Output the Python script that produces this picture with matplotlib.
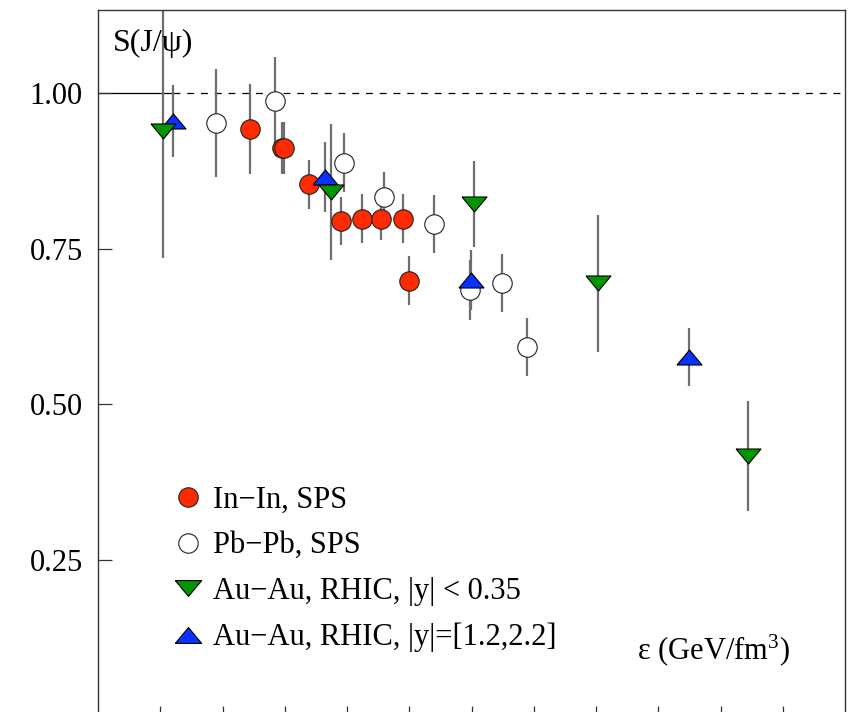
import matplotlib
matplotlib.use("Agg")
import matplotlib.pyplot as plt
from matplotlib.lines import Line2D

plt.rcParams['font.family'] = ['Liberation Serif', 'DejaVu Serif']
plt.rcParams['mathtext.fontset'] = 'custom'
plt.rcParams['mathtext.rm'] = 'Liberation Serif'
plt.rcParams['mathtext.it'] = 'Liberation Serif:italic'

# ---- data ----
inin_x = [1.221, 1.475, 1.497, 1.697, 1.949, 2.123, 2.273, 2.447, 2.498]
inin_y = [0.943, 0.912, 0.912, 0.854, 0.795, 0.799, 0.799, 0.799, 0.699]
inin_e = [0.072, 0.042, 0.042, 0.039, 0.039, 0.039, 0.035, 0.039, 0.039]

pbpb_x = [0.948, 1.424, 1.973, 2.297, 2.699, 2.988, 3.247, 3.443]
pbpb_y = [0.953, 0.988, 0.889, 0.834, 0.790, 0.684, 0.695, 0.592]
pbpb_e = [0.087, 0.071, 0.047, 0.040, 0.047, 0.048, 0.047, 0.047]

aumid_x = [0.524, 1.874, 3.020, 4.018, 5.221]
aumid_y = [0.940, 0.842, 0.822, 0.695, 0.417]
aumid_e = [0.205, 0.109, 0.069, 0.110, 0.088]

aufwd_x = [0.600, 1.823, 2.996, 4.745]
aufwd_y = [0.956, 0.866, 0.700, 0.576]
aufwd_e = [0.058, 0.056, 0.048, 0.047]

labels = ["In\u2212In, SPS", "Pb\u2212Pb, SPS",
          "Au\u2212Au, RHIC, |y| < 0.35", "Au\u2212Au, RHIC, |y|=[1.2,2.2]"]
yticks = [0.25, 0.50, 0.75, 1.00]
xticks = [0.5, 1.0, 1.5, 2.0, 2.5, 3.0, 3.5, 4.0, 4.5, 5.0, 5.5]

# ---- style ----
RED = '#ff2a00'
GREEN = '#009600'
BLUE = '#0a32ff'
ECOL = '#6e6e6e'
tri_up = [(-1, -0.6), (1, -0.6), (0, 0.6), (-1, -0.6)]
tri_dn = [(-1, 0.6), (1, 0.6), (0, -0.6), (-1, 0.6)]

fig = plt.figure(figsize=(8.48, 7.12), dpi=100)
ax = fig.add_axes([98/848, -3.5/712, 747/848, 705.5/712])
ax.set_xlim(0, 6.0)
ax.set_ylim(0, 1.1342)

# reference line at 1
ax.plot([0, 0.6], [1, 1], color='black', lw=0.9, zorder=1)
ax.plot([0.6, 6.0], [1, 1], color='black', lw=0.9, ls=(0, (5.5, 5.5)), zorder=1)

ekw = dict(fmt='none', ecolor=ECOL, elinewidth=1.6, capsize=0, zorder=2)
for xs, ys, es in [(inin_x, inin_y, inin_e), (pbpb_x, pbpb_y, pbpb_e),
                   (aumid_x, aumid_y, aumid_e), (aufwd_x, aufwd_y, aufwd_e)]:
    ax.errorbar(xs, ys, yerr=es, **ekw)

ax.plot(inin_x, inin_y, ls='none', marker='o', ms=14, mfc=RED, mec='#222222', mew=0.8, zorder=3)
ax.plot(pbpb_x, pbpb_y, ls='none', marker='o', ms=14, mfc='white', mec='#222222', mew=0.8, zorder=4)
ax.plot(aufwd_x, aufwd_y, ls='none', marker=tri_up, ms=18, mfc=BLUE, mec='black', mew=0.8, zorder=5)
ax.plot(aumid_x, aumid_y, ls='none', marker=tri_dn, ms=18, mfc=GREEN, mec='black', mew=0.8, zorder=6)

# axes styling
ax.set_yticks(yticks)
ax.set_yticklabels([f"{v:.2f}" for v in yticks])
ax.set_xticks(xticks)
ax.set_xticklabels([])
ax.tick_params(axis='y', direction='in', length=10, width=0.9, labelsize=22, pad=11, color='#333333')
ax.tick_params(axis='x', direction='in', length=7, width=0.9, color='#333333')
for s in ax.spines.values():
    s.set_linewidth(1.0)
    s.set_color('#333333')

ax.text(0.020, 0.952, "S(J/\u03c8)", transform=ax.transAxes, fontsize=23, va='center', ha='left')
ax.text(0.926, 0.093, "\u03b5 (GeV/fm$^3$)", transform=ax.transAxes, fontsize=22, va='center', ha='right')

handles = [
    Line2D([], [], ls='none', marker='o', ms=14, mfc=RED, mec='#222222', mew=0.8),
    Line2D([], [], ls='none', marker='o', ms=14, mfc='white', mec='#222222', mew=0.8),
    Line2D([], [], ls='none', marker=tri_dn, ms=19, mfc=GREEN, mec='black', mew=0.8),
    Line2D([], [], ls='none', marker=tri_up, ms=19, mfc=BLUE, mec='black', mew=0.8),
]
ax.legend(handles, labels, loc='upper left', bbox_to_anchor=(0.0996, 0.326), frameon=False,
          fontsize=22, numpoints=1, handlelength=1.0, handletextpad=0.33, labelspacing=0.55,
          borderaxespad=0, borderpad=0)

fig.savefig("out.png", dpi=100)
